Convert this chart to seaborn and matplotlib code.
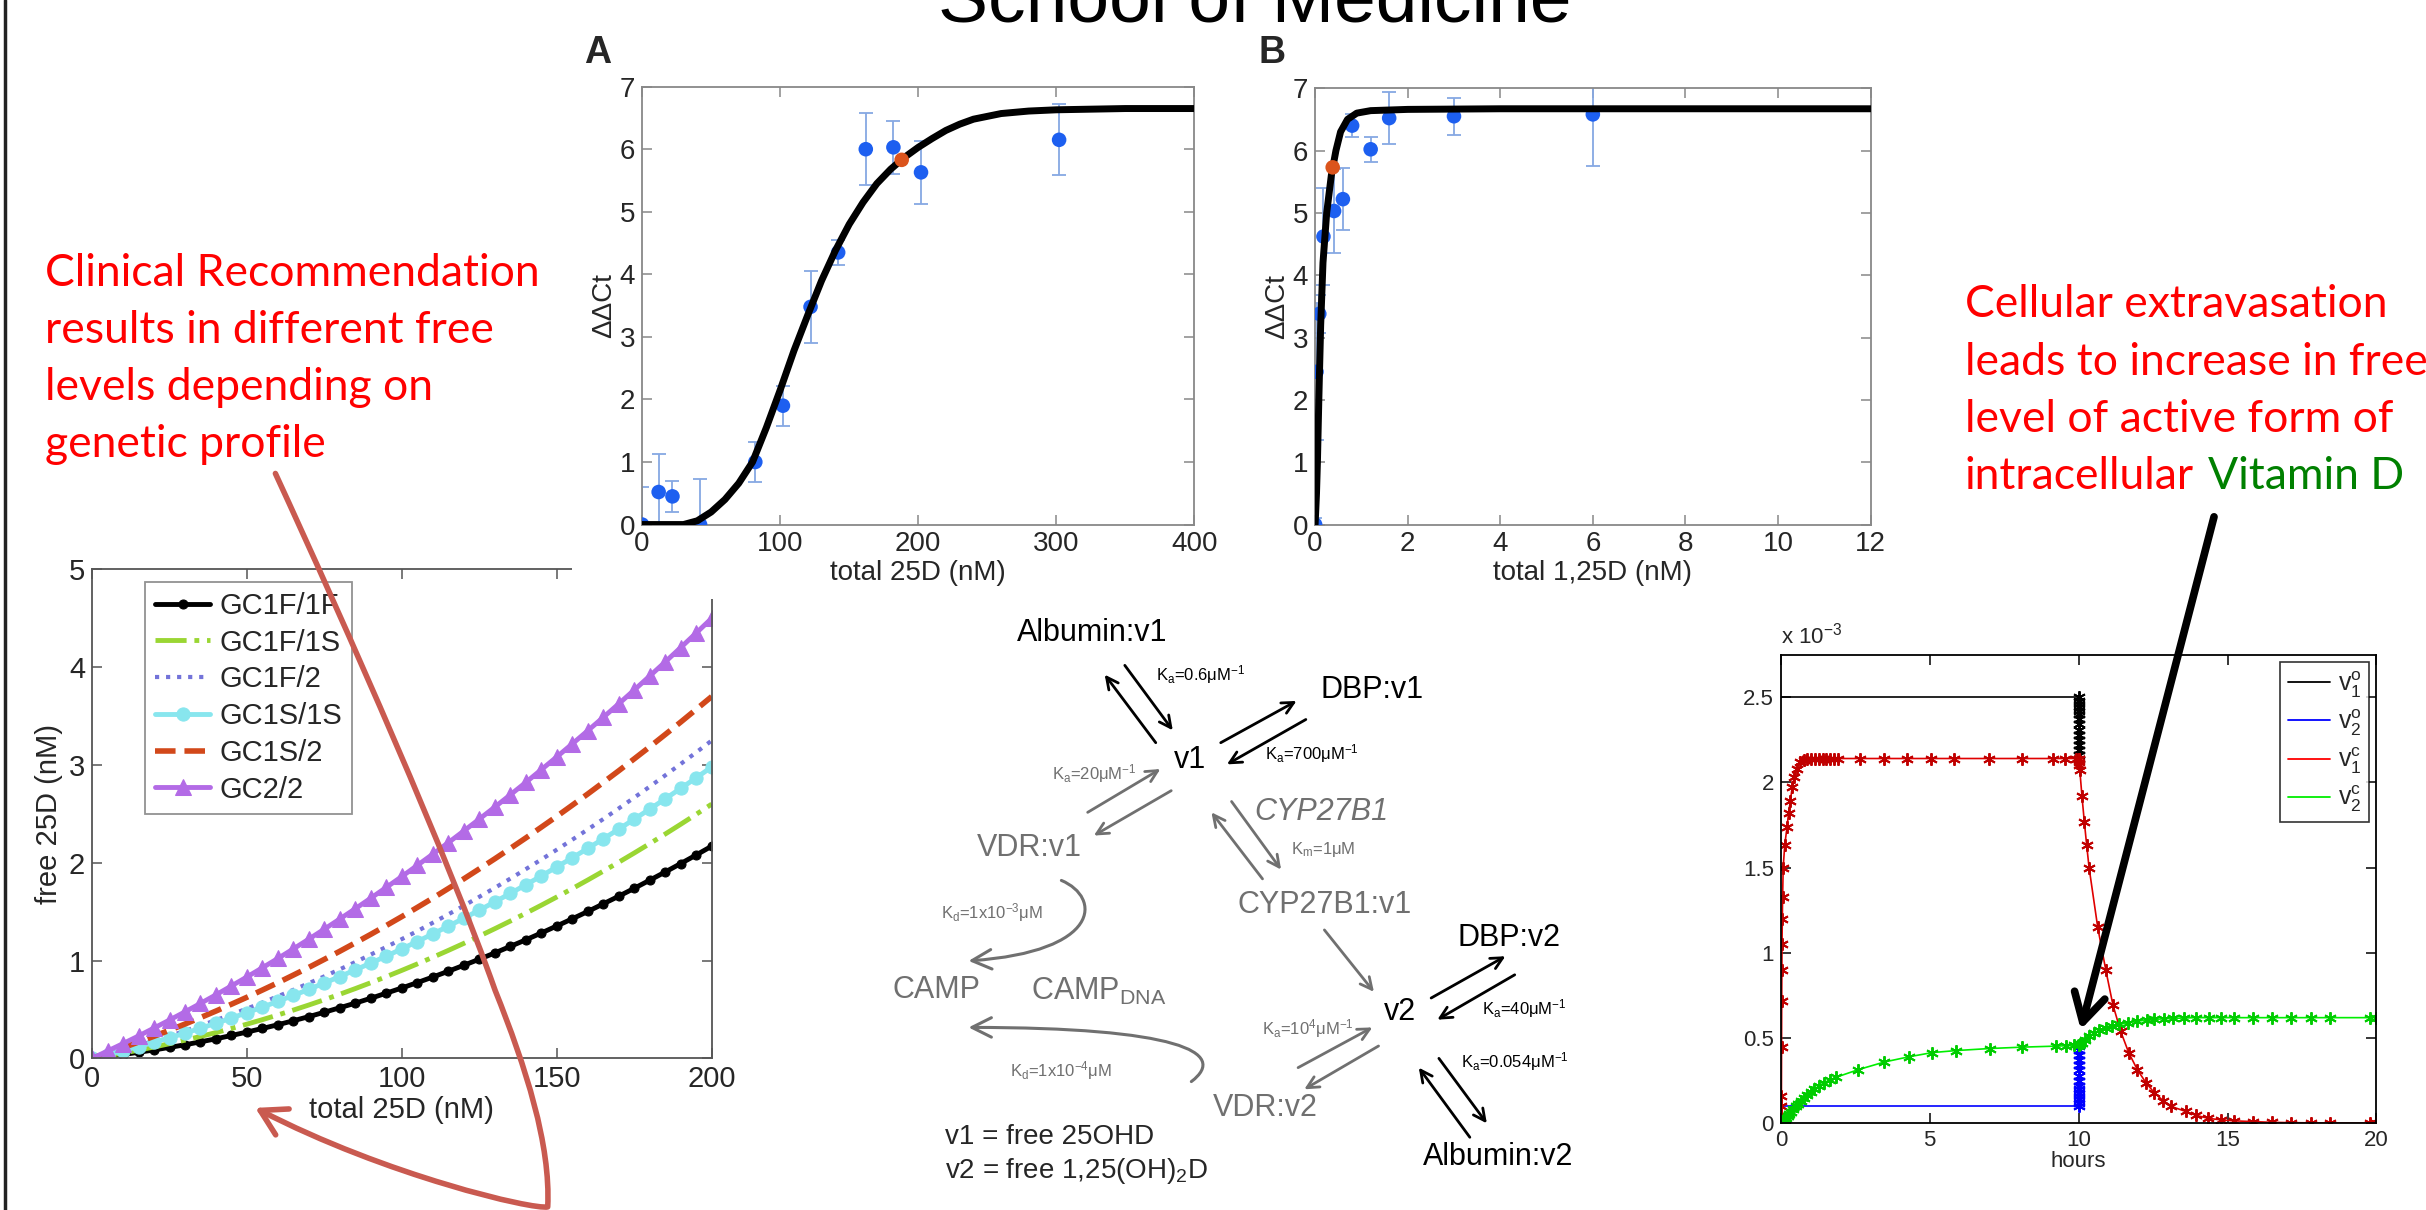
import numpy as np
import pandas as pd
import matplotlib
matplotlib.use("Agg")
import matplotlib.pyplot as plt
from matplotlib.path import Path
from matplotlib.patches import FancyArrowPatch, Rectangle
from matplotlib.lines import Line2D
import seaborn as sns

# ---------------- data ----------------
# panel A : dDCt vs total 25D (nM)
a_x = [0, 12, 22, 42, 82, 102, 122, 142, 162, 182, 202, 302]
a_y = [0.0, 0.52, 0.45, 0.0, 1.0, 1.9, 3.48, 4.35, 6.0, 6.03, 5.63, 6.15]
a_err = [0.6, 0.6, 0.25, 0.73, 0.32, 0.32, 0.58, 0.2, 0.58, 0.42, 0.5, 0.57]
a_fit_x = [0, 30, 40, 50, 60, 70, 80, 90, 100, 110, 120, 130, 140, 150, 160, 170,
           180, 190, 200, 210, 220, 230, 240, 260, 280, 300, 350, 400]
a_fit_y = [0, 0, 0.06, 0.2, 0.4, 0.66, 1.0, 1.55, 2.15, 2.78, 3.35, 3.9, 4.38, 4.8, 5.15, 5.45,
           5.68, 5.87, 6.03, 6.17, 6.3, 6.4, 6.48, 6.57, 6.61, 6.63, 6.65, 6.65]
a_mark = [188, 5.83]

# panel B : dDCt vs total 1,25D (nM)
b_x = [0.0, 0.03, 0.09, 0.18, 0.41, 0.6, 0.8, 1.2, 1.6, 3.0, 6.0]
b_y = [0.0, 2.45, 3.38, 4.62, 5.03, 5.22, 6.4, 6.02, 6.52, 6.55, 6.58]
b_err = [0.1, 1.1, 0.3, 0.78, 0.68, 0.5, 0.18, 0.2, 0.42, 0.3, 0.83]
b_fit_x = [0, 0.03, 0.05, 0.08, 0.12, 0.17, 0.25, 0.35, 0.45, 0.55, 0.7, 0.9, 1.2, 2, 4, 8, 12]
b_fit_y = [0, 0.5, 1.0, 2.0, 3.2, 4.2, 5.0, 5.6, 6.0, 6.3, 6.5, 6.6, 6.64, 6.66, 6.67, 6.67, 6.67]
b_mark = [0.38, 5.73]

# free 25D (nM) vs total 25D (nM) for the GC genotypes
gc_x = list(range(0, 205, 5))
gc_1f1f = [0, 0.019, 0.039, 0.062, 0.086, 0.112, 0.139, 0.169, 0.2, 0.234, 0.269, 0.306, 0.344,
           0.385, 0.427, 0.472, 0.518, 0.565, 0.615, 0.667, 0.72, 0.775, 0.832, 0.891, 0.952,
           1.014, 1.078, 1.145, 1.212, 1.282, 1.354, 1.427, 1.502, 1.58, 1.658, 1.739, 1.822,
           1.906, 1.992, 2.08, 2.17]
gc_1f1s = [0, 0.026, 0.054, 0.084, 0.116, 0.15, 0.186, 0.224, 0.264, 0.306, 0.35, 0.396, 0.444,
           0.494, 0.546, 0.6, 0.656, 0.714, 0.774, 0.836, 0.9, 0.966, 1.034, 1.104, 1.176, 1.25,
           1.326, 1.404, 1.484, 1.566, 1.65, 1.736, 1.824, 1.914, 2.006, 2.1, 2.196, 2.294,
           2.394, 2.496, 2.6]
gc_1f2 = [0, 0.042, 0.086, 0.131, 0.179, 0.229, 0.281, 0.335, 0.391, 0.449, 0.509, 0.571, 0.635,
          0.701, 0.769, 0.839, 0.911, 0.985, 1.062, 1.14, 1.22, 1.302, 1.387, 1.473, 1.561,
          1.652, 1.744, 1.838, 1.935, 2.033, 2.134, 2.236, 2.341, 2.447, 2.556, 2.667, 2.779,
          2.894, 3.011, 3.129, 3.25]
gc_1s1s = [0, 0.038, 0.079, 0.121, 0.165, 0.211, 0.258, 0.308, 0.359, 0.412, 0.468, 0.524, 0.583,
           0.644, 0.706, 0.771, 0.837, 0.905, 0.975, 1.046, 1.12, 1.195, 1.273, 1.352, 1.433,
           1.516, 1.6, 1.687, 1.775, 1.865, 1.958, 2.051, 2.147, 2.245, 2.344, 2.446, 2.549,
           2.654, 2.761, 2.869, 2.98]
gc_1s2 = [0, 0.054, 0.109, 0.167, 0.226, 0.288, 0.351, 0.417, 0.484, 0.554, 0.625, 0.699, 0.774,
          0.852, 0.931, 1.013, 1.096, 1.182, 1.269, 1.359, 1.45, 1.544, 1.639, 1.737, 1.836,
          1.938, 2.041, 2.147, 2.254, 2.364, 2.475, 2.589, 2.704, 2.822, 2.941, 3.063, 3.186,
          3.312, 3.439, 3.569, 3.7]
gc_22 = [0, 0.075, 0.151, 0.229, 0.31, 0.392, 0.476, 0.562, 0.65, 0.741, 0.833, 0.927, 1.022,
         1.12, 1.22, 1.322, 1.426, 1.531, 1.639, 1.749, 1.86, 1.974, 2.089, 2.206, 2.326, 2.447,
         2.57, 2.695, 2.822, 2.952, 3.083, 3.216, 3.351, 3.487, 3.626, 3.767, 3.91, 4.054,
         4.201, 4.35, 4.5]
gc_names = ["GC1F/1F", "GC1F/1S", "GC1F/2", "GC1S/1S", "GC1S/2", "GC2/2"]

# time course (values in units of 1e-3), hours
v1o_t = [0, 10]
v1o_v = [2.5, 2.5]
v1o_drop = [2.5, 2.48, 2.46, 2.44, 2.42, 2.4, 2.37, 2.34, 2.31, 2.28, 2.25, 2.22, 2.19, 2.16, 2.14]
v2o_t = [0, 10]
v2o_v = [0.1, 0.1]
v2o_rise = [0.1, 0.12, 0.14, 0.16, 0.18, 0.2, 0.22, 0.25, 0.28, 0.31, 0.34, 0.37, 0.4, 0.43, 0.455]
v1c_t = [0, 0.01, 0.015, 0.02, 0.025, 0.03, 0.035, 0.04, 0.05, 0.06, 0.08, 0.13, 0.21, 0.26,
         0.32, 0.38, 0.45, 0.53, 0.64, 0.77, 0.89, 1.02, 1.15, 1.28, 1.41, 1.53, 1.66, 1.79,
         1.92, 2.65, 3.45, 4.25, 5.05, 5.8, 7.0, 8.1, 9.15, 9.55, 9.9, 10.0,
         10.0, 10.01, 10.02, 10.04, 10.11, 10.19, 10.27, 10.35, 10.64, 10.91, 11.15, 11.41,
         11.68, 11.97, 12.26, 12.54, 12.83, 13.1, 13.59, 13.94, 14.34, 14.78, 15.2, 15.86,
         16.5, 17.14, 17.8, 18.45, 19.78, 20.0]
v1c_v = [0, 0.05, 0.1, 0.16, 0.45, 0.72, 0.9, 1.05, 1.2, 1.33, 1.5, 1.63, 1.74, 1.82,
         1.89, 1.97, 2.03, 2.08, 2.12, 2.13, 2.14, 2.14, 2.14, 2.14, 2.14, 2.14, 2.14, 2.14,
         2.14, 2.14, 2.14, 2.14, 2.14, 2.14, 2.14, 2.14, 2.14, 2.14, 2.14, 2.14,
         2.14, 2.12, 2.1, 2.07, 1.92, 1.77, 1.63, 1.5, 1.15, 0.9, 0.695, 0.54,
         0.415, 0.315, 0.238, 0.18, 0.134, 0.1, 0.07, 0.047, 0.03, 0.02, 0.015, 0.01,
         0.006, 0.004, 0.003, 0.002, 0.001, 0.001]
v2c_t = [0, 0.03, 0.07, 0.12, 0.17, 0.23, 0.29, 0.35, 0.42, 0.5, 0.58, 0.67, 0.77, 0.88, 1.0,
         1.13, 1.28, 1.45, 1.65, 1.85, 2.6, 3.48, 4.29, 5.08, 5.89, 7.02, 8.11, 9.23, 9.56,
         9.85, 10.0, 10.02, 10.05, 10.1, 10.22, 10.35, 10.52, 10.69, 10.91, 11.11, 11.36,
         11.65, 11.95, 12.29, 12.54, 12.85, 13.18, 13.55, 13.94, 14.36, 14.78, 15.2, 15.86,
         16.5, 17.14, 17.8, 18.45, 19.78, 20.0]
v2c_v = [0, 0.005, 0.012, 0.022, 0.032, 0.044, 0.056, 0.068, 0.082, 0.1, 0.115, 0.13, 0.15,
         0.168, 0.185, 0.2, 0.22, 0.238, 0.255, 0.27, 0.315, 0.36, 0.39, 0.415, 0.427, 0.439,
         0.447, 0.453, 0.455, 0.457, 0.459, 0.462, 0.466, 0.47, 0.49, 0.51, 0.53, 0.545, 0.56,
         0.57, 0.58, 0.59, 0.6, 0.605, 0.61, 0.613, 0.616, 0.618, 0.62, 0.62, 0.62, 0.62, 0.62,
         0.62, 0.62, 0.62, 0.62, 0.62, 0.62]

# ---------------- style ----------------
sns.set_theme(style="white")
plt.rcParams['font.family'] = ['Liberation Sans Narrow', 'Liberation Sans', 'DejaVu Sans']
plt.rcParams['mathtext.fontset'] = 'custom'
plt.rcParams['mathtext.rm'] = 'Liberation Sans'
plt.rcParams['mathtext.it'] = 'Liberation Sans:italic'
plt.rcParams['axes.unicode_minus'] = False

W, H = 1568, 782          # layout is written in the 1568x782 preview grid


def box(l, t, r, b):
    return [l / W, 1 - b / H, (r - l) / W, (b - t) / H]


def matlab(ax, col, size):
    for s in ax.spines.values():
        s.set_visible(True)
        s.set_color(col)
        s.set_linewidth(1.3)
    ax.tick_params(direction='in', top=True, right=True, bottom=True, left=True,
                   length=7, width=1.1, color=col, labelsize=size, pad=5)
    ax.grid(False)


fig = plt.figure(figsize=(24.26, 12.10), dpi=100)
RED = '#ff0000'
GRAY = '#707070'

# ---------------- panel A ----------------
ax_a = fig.add_axes(box(415, 56, 772, 339))
ax_a.set_zorder(2)
ax_a.errorbar(a_x, a_y, yerr=a_err, fmt='none', ecolor='#86a8e3', elinewidth=1.3,
              capsize=5, capthick=1.3, zorder=2)
sns.scatterplot(x=a_x, y=a_y, ax=ax_a, color='#1d5ff0', s=110, edgecolor='none', zorder=3)
sns.lineplot(x=a_fit_x, y=a_fit_y, ax=ax_a, color='black', lw=5, zorder=4)
sns.scatterplot(x=[a_mark[0]], y=[a_mark[1]], ax=ax_a, color='#db541c', s=110,
                edgecolor='none', zorder=5)
ax_a.set_xlim(0, 400)
ax_a.set_ylim(0, 7)
ax_a.set_xticks([0, 100, 200, 300, 400])
ax_a.set_yticks(range(8))
ax_a.set_xlabel('total 25D (nM)', fontsize=20, labelpad=2)
ax_a.set_ylabel('ΔΔCt', fontsize=20, labelpad=2)
matlab(ax_a, '#888888', 20)

# ---------------- panel B ----------------
ax_b = fig.add_axes(box(850, 57, 1209, 339))
ax_b.set_zorder(2)
ax_b.errorbar(b_x, b_y, yerr=b_err, fmt='none', ecolor='#86a8e3', elinewidth=1.3,
              capsize=5, capthick=1.3, zorder=2)
sns.scatterplot(x=b_x, y=b_y, ax=ax_b, color='#1d5ff0', s=110, edgecolor='none', zorder=3)
sns.lineplot(x=b_fit_x, y=b_fit_y, ax=ax_b, color='black', lw=5, zorder=4)
sns.scatterplot(x=[b_mark[0]], y=[b_mark[1]], ax=ax_b, color='#db541c', s=110,
                edgecolor='none', zorder=5)
ax_b.set_xlim(0, 12)
ax_b.set_ylim(0, 7)
ax_b.set_xticks(range(0, 13, 2))
ax_b.set_yticks(range(8))
ax_b.set_xlabel('total 1,25D (nM)', fontsize=20, labelpad=2)
ax_b.set_ylabel('ΔΔCt', fontsize=20, labelpad=2)
matlab(ax_b, '#888888', 20)

# ---------------- GC genotype curves ----------------
ax_g = fig.add_axes(box(59.5, 368, 460, 684))
ax_g.set_zorder(1)
gc_series = [gc_1f1f, gc_1f1s, gc_1f2, gc_1s1s, gc_1s2, gc_22]
gc_styles = [
    dict(color='black', ls='-', lw=3.5, marker='o', markersize=6.5),
    dict(color='#9ad633', ls='-.', lw=3.5, marker=None),
    dict(color='#7373d9', ls=':', lw=3.0, marker=None),
    dict(color='#88e6ee', ls='-', lw=3.5, marker='o', markersize=9.5),
    dict(color='#d2481a', ls='--', lw=4.0, marker=None),
    dict(color='#b36be6', ls='-', lw=3.5, marker='^', markersize=12),
]
for name, vals, st in zip(gc_names, gc_series, gc_styles):
    sns.lineplot(x=gc_x, y=vals, ax=ax_g, label=name, color=st['color'],
                 linestyle=st['ls'], lw=st['lw'], marker=st['marker'],
                 markersize=st.get('markersize', 0), markeredgecolor=st['color'])
ax_g.set_xlim(0, 200)
ax_g.set_ylim(0, 5)
ax_g.set_xticks([0, 50, 100, 150, 200])
ax_g.set_yticks(range(6))
ax_g.set_xlabel('total 25D (nM)', fontsize=21, labelpad=2)
ax_g.set_ylabel('free 25D (nM)', fontsize=21, labelpad=4)
matlab(ax_g, '#555555', 21)
lg = ax_g.legend(loc='upper left', bbox_to_anchor=(0.085, 0.975), fontsize=21,
                 frameon=True, fancybox=False, edgecolor='#777777', handlelength=1.9,
                 labelspacing=0.3, borderpad=0.35, handletextpad=0.3, borderaxespad=0)
lg.get_frame().set_linewidth(1.3)
# the pasted panel A image hides the top-right corner of this frame
ax_g.add_patch(Rectangle((370 / W, 1 - 387 / H), 100 / W, 45 / H, transform=fig.transFigure,
                         facecolor='white', edgecolor='none', clip_on=False, zorder=20))

# ---------------- time course ----------------
ax_t = fig.add_axes(box(1151, 423, 1536, 726))
asterisk = (6, 2, 0)


def stars(t, v, col, edge):
    sns.lineplot(x=t, y=v, ax=ax_t, color=col, marker=asterisk, markersize=9,
                 markeredgewidth=1.4, markeredgecolor=edge, markerfacecolor=edge,
                 lw=1.2, estimator=None, sort=False)


sns.lineplot(x=v1o_t, y=v1o_v, ax=ax_t, color='black', lw=1.2, estimator=None, sort=False)
stars([10] * len(v1o_drop), v1o_drop, 'black', 'black')
sns.lineplot(x=v2o_t, y=v2o_v, ax=ax_t, color='#0000ff', lw=1.2, estimator=None, sort=False)
stars([10] * len(v2o_rise), v2o_rise, '#0000ff', '#0000ff')
stars(v1c_t, v1c_v, '#e00000', '#c00000')
stars(v2c_t, v2c_v, '#00ee00', '#00cc00')
ax_t.set_xlim(0, 20)
ax_t.set_ylim(0, 2.75)
ax_t.set_xticks([0, 5, 10, 15, 20])
ax_t.set_yticks([0, 0.5, 1, 1.5, 2, 2.5])
ax_t.set_yticklabels(['0', '0.5', '1', '1.5', '2', '2.5'])
ax_t.set_xlabel('hours', fontsize=16, labelpad=0)
matlab(ax_t, 'black', 16)
t_handles = [Line2D([], [], color=c, lw=1.3) for c in ['black', '#0000ff', 'red', '#00ee00']]
t_labels = [r'$\mathregular{v_1^o}$', r'$\mathregular{v_2^o}$',
            r'$\mathregular{v_1^c}$', r'$\mathregular{v_2^c}$']
lt = ax_t.legend(t_handles, t_labels, loc='upper right', fontsize=18, frameon=True,
                 fancybox=False, edgecolor='black', handlelength=1.7, labelspacing=0.3,
                 borderaxespad=0.3, borderpad=0.3, handletextpad=0.3)
lt.get_frame().set_linewidth(1.2)

# ---------------- overlay: slide text, diagram, arrows ----------------
ov = fig.add_axes([0, 0, 1, 1])
ov.set_xlim(0, W)
ov.set_ylim(H, 0)
ov.axis('off')
ov.patch.set_alpha(0)
ov.set_zorder(10)

ov.plot([3, 3], [0, H], color='#222222', lw=2.5)
ov.text(811, 14, 'School of Medicine', ha='center', va='baseline', fontsize=54,
        color='black')
ov.text(386, 34, 'A', ha='center', va='center', fontsize=27, fontweight='bold')
ov.text(822, 34, 'B', ha='center', va='center', fontsize=27, fontweight='bold')

left_lines = ['Clinical Recommendation', 'results in different free',
              'levels depending on', 'genetic profile']
for i, s in enumerate(left_lines):
    ov.text(29, 176.5 + 37 * i, s, color=RED, fontsize=32, family='Lato', va='center')

right_lines = ['Cellular extravasation', 'leads to increase in free',
               'level of active form of']
for i, s in enumerate(right_lines):
    ov.text(1270, 197 + 37 * i, s, color=RED, fontsize=32, family='Lato', va='center')
t_last = ov.text(1270, 308, 'intracellular', color=RED, fontsize=32, family='Lato',
                 va='center')
ov.annotate('Vitamin D', xy=(1, 0), xycoords=t_last, xytext=(10, 0),
            textcoords='offset points', ha='left', va='bottom', color='#008000',
            fontsize=32, family='Lato')

ov.text(1151, 419, r'x 10$^{\mathregular{-3}}$', fontsize=16, va='bottom', ha='left')

# reaction scheme
big = 22
small = 12
nodes = [
    ('Albumin:v1', 706, 409, 'black', 'normal'),
    ('DBP:v1', 887, 446, 'black', 'normal'),
    ('v1', 769, 491, 'black', 'normal'),
    ('VDR:v1', 665, 548, GRAY, 'normal'),
    ('CYP27B1', 854, 525, GRAY, 'italic'),
    ('CYP27B1:v1', 856, 585, GRAY, 'normal'),
    ('DBP:v2', 975, 606, 'black', 'normal'),
    ('CAMP', 605, 640, GRAY, 'normal'),
    (r'CAMP$_{\mathregular{DNA}}$', 710, 641, GRAY, 'normal'),
    ('v2', 905, 654, 'black', 'normal'),
    ('VDR:v2', 818, 716, GRAY, 'normal'),
    ('Albumin:v2', 968, 748, 'black', 'normal'),
]
for s, x, y, c, st in nodes:
    ov.text(x, y, s, ha='center', va='center', fontsize=big, color=c, style=st)
ov.text(611, 735, 'v1 = free 25OHD', ha='left', va='center', fontsize=20)
ov.text(611, 757, r'v2 = free 1,25(OH)$_{\mathregular{2}}$D', ha='left', va='center',
        fontsize=20)

klabels = [
    (r'K$_{\mathregular{a}}$=0.6μM$^{\mathregular{-1}}$', 776, 436, 'black'),
    (r'K$_{\mathregular{a}}$=700μM$^{\mathregular{-1}}$', 848, 487, 'black'),
    (r'K$_{\mathregular{a}}$=20μM$^{\mathregular{-1}}$', 707, 500, GRAY),
    (r'K$_{\mathregular{m}}$=1μM', 855, 549, GRAY),
    (r'K$_{\mathregular{d}}$=1x10$^{\mathregular{-3}}$μM', 641, 590, GRAY),
    (r'K$_{\mathregular{a}}$=10$^{\mathregular{4}}$μM$^{\mathregular{-1}}$', 845, 665, GRAY),
    (r'K$_{\mathregular{a}}$=40μM$^{\mathregular{-1}}$', 985, 652, 'black'),
    (r'K$_{\mathregular{a}}$=0.054μM$^{\mathregular{-1}}$', 979, 686, 'black'),
    (r'K$_{\mathregular{d}}$=1x10$^{\mathregular{-4}}$μM', 686, 692, GRAY),
]
for s, x, y, c in klabels:
    ov.text(x, y, s, ha='center', va='center', fontsize=small, color=c)

scheme_arrows = [
    (727, 430, 758, 472, 'black'), (747, 480, 714, 436, 'black'),
    (789, 480, 838, 453, 'black'), (844, 465, 793, 494, 'black'),
    (703, 525, 750, 497, GRAY), (757, 511, 707, 540, GRAY),
    (796, 518, 828, 562, GRAY), (816, 568, 783, 525, GRAY),
    (856, 601, 888, 641, GRAY),
    (925, 645, 973, 618, 'black'), (979, 630, 929, 659, 'black'),
    (839, 690, 887, 664, GRAY), (891, 676, 843, 704, GRAY),
    (930, 684, 961, 726, 'black'), (950, 735, 917, 690, 'black'),
]
for x0, y0, x1, y1, c in scheme_arrows:
    ov.annotate('', xy=(x1, y1), xytext=(x0, y0),
                arrowprops=dict(arrowstyle='->,head_length=0.7,head_width=0.35',
                                color=c, lw=2.0, shrinkA=0, shrinkB=0))

curves = [
    [(686, 569), (712, 580), (712, 615), (626, 621)],
    [(770, 699), (795, 680), (760, 664), (626, 664)],
]
for pts in curves:
    p = Path(pts, [Path.MOVETO, Path.CURVE4, Path.CURVE4, Path.CURVE4])
    ov.add_patch(FancyArrowPatch(path=p, arrowstyle='->,head_length=0.7,head_width=0.35',
                                 color=GRAY, lw=2.2, mutation_scale=20))

# red pointer over the genotype plot
red_path = Path([(178, 306), (225, 408), (290, 555), (320, 640),
                 (340, 690), (356, 740), (354, 780),
                 (345, 782), (250, 760), (165, 716)],
                [Path.MOVETO, Path.CURVE4, Path.CURVE4, Path.CURVE4,
                 Path.CURVE4, Path.CURVE4, Path.CURVE4,
                 Path.CURVE4, Path.CURVE4, Path.CURVE4])
ov.add_patch(FancyArrowPatch(path=red_path, arrowstyle='->,head_length=0.6,head_width=0.35',
                             color='#c95a50', lw=4, mutation_scale=30))

# black pointer to the jump in v2c at 10 h
ov.annotate('', xy=(10.07, 0.55), xycoords=ax_t.transData, xytext=(1431, 334),
            textcoords='data',
            arrowprops=dict(arrowstyle='->,head_length=0.8,head_width=0.45', color='black',
                            lw=5.5, shrinkA=0, shrinkB=0, mutation_scale=25))

fig.savefig('out.png', dpi=100)
